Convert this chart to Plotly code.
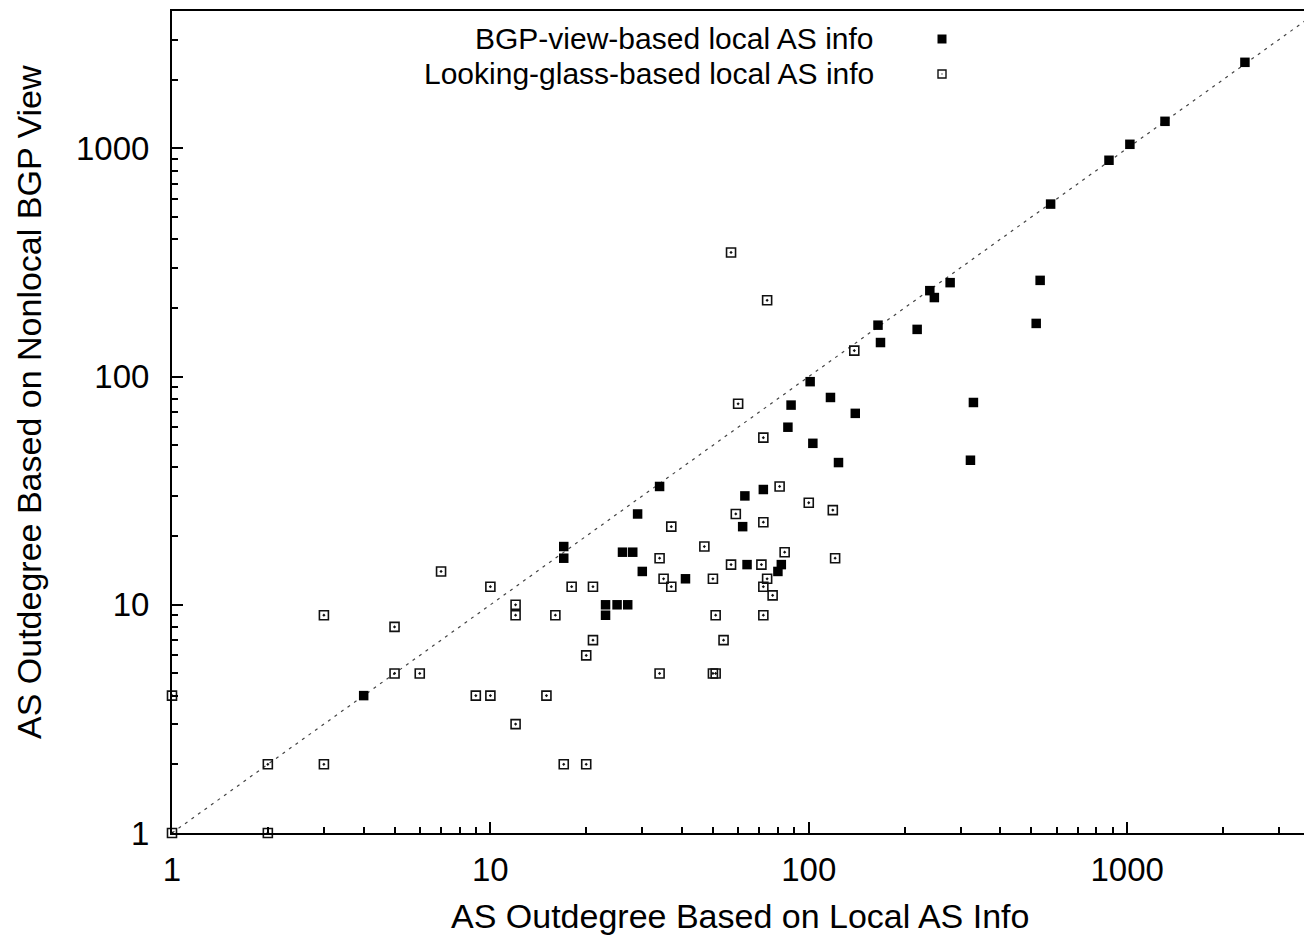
import plotly.graph_objects as go

# BGP-view-based local AS info (filled squares)
bgp_x = [4, 17, 17, 23, 23, 25, 27, 26, 28, 29, 30, 34, 41, 62, 63, 64, 72, 80, 82,
         86, 88, 101, 103, 117, 124, 140, 165, 168, 219, 240, 248, 278, 322, 329,
         518, 533, 575, 877, 1020, 1315, 2344]
bgp_y = [4, 18, 16, 10, 9, 10, 10, 17, 17, 25, 14, 33, 13, 22, 30, 15, 32, 14, 15,
         60, 75, 95, 51, 81, 42, 69, 168, 141, 161, 238, 222, 258, 43, 77,
         171, 264, 570, 887, 1042, 1314, 2383]

# Looking-glass-based local AS info (open squares with dot)
lg_x = [1, 1, 2, 2, 3, 3, 5, 5, 6, 7, 9, 10, 10, 12, 12, 12, 15, 16, 17, 18, 20, 20,
        21, 21, 34, 34, 35, 37, 37, 47, 50, 51, 50, 51, 54, 57, 57, 59, 60, 71, 72,
        72, 72, 72, 74, 74, 77, 81, 84, 100, 119, 121, 139]
lg_y = [1, 4, 1, 2, 2, 9, 5, 8, 5, 14, 4, 4, 12, 3, 9, 10, 4, 9, 2, 12, 2, 6,
        7, 12, 5, 16, 13, 12, 22, 18, 5, 5, 13, 9, 7, 15, 350, 25, 76, 15, 9,
        12, 23, 54, 13, 216, 11, 33, 17, 28, 26, 16, 130]

diag = [1, 4000]

major_ticks = [1, 10, 100, 1000]
major_text = ["1", "10", "100", "1000"]
minor_ticks = [2, 3, 4, 5, 6, 7, 8, 9, 20, 30, 40, 50, 60, 70, 80, 90,
               200, 300, 400, 500, 600, 700, 800, 900, 2000, 3000]

legend_labels = ["BGP-view-based local AS info", "Looking-glass-based local AS info"]
x_title = "AS Outdegree Based on Local AS Info"
y_title = "AS Outdegree Based on Nonlocal BGP View"

FONT = "Liberation Sans, Arial, sans-serif"

fig = go.Figure()
fig.add_trace(go.Scatter(x=diag, y=diag, mode="lines",
                         line=dict(color="#444444", width=1.2, dash="3px,5px"),
                         showlegend=False, hoverinfo="skip"))
fig.add_trace(go.Scatter(x=lg_x, y=lg_y, mode="markers", name=legend_labels[1],
                         marker=dict(symbol="square-open-dot", size=9,
                                     color="#111111", line=dict(width=1.6, color="#111111")),
                         cliponaxis=False, showlegend=False))
fig.add_trace(go.Scatter(x=bgp_x, y=bgp_y, mode="markers", name=legend_labels[0],
                         marker=dict(symbol="square", size=9.5, color="black",
                                     line=dict(width=0)),
                         cliponaxis=False, showlegend=False))

axis_common = dict(
    type="log", showgrid=False, zeroline=False,
    showline=True, linecolor="black", linewidth=2,
    ticks="inside", ticklen=11, tickwidth=2, tickcolor="black",
    tickvals=major_ticks, ticktext=major_text,
    tickfont=dict(family=FONT, size=33, color="black"),
    minor=dict(ticks="inside", ticklen=6, tickwidth=2, tickcolor="black",
               tickvals=minor_ticks, showgrid=False),
)

fig.update_xaxes(**axis_common, range=[0, 3.5555], mirror=True, ticklabelstandoff=6)
fig.update_yaxes(**axis_common, range=[0, 3.602], mirror=False, ticklabelstandoff=14)

W, H = 1304, 940
L, R, T, B = 172, 0, 11, 107
pw, ph = W - L - R, H - T - B

def px_to_paper_x(px):
    return (px - L) / pw

def px_to_paper_y(py):
    return (H - B - py) / ph

annotations = [
    dict(text=x_title, x=px_to_paper_x(740), y=px_to_paper_y(916), xref="paper", yref="paper",
         showarrow=False, xanchor="center", yanchor="middle",
         font=dict(family=FONT, size=34, color="black")),
    dict(text=y_title, x=px_to_paper_x(29), y=px_to_paper_y(402), xref="paper", yref="paper",
         showarrow=False, xanchor="center", yanchor="middle", textangle=-90,
         font=dict(family=FONT, size=34, color="black")),
]
legend_y_px = [39, 74]
for lbl, ypx in zip(legend_labels, legend_y_px):
    annotations.append(dict(text=lbl, x=px_to_paper_x(876), y=px_to_paper_y(ypx),
                            xref="paper", yref="paper", showarrow=False,
                            xanchor="right", yanchor="middle",
                            font=dict(family=FONT, size=30, color="black")))

lx = px_to_paper_x(942)
shapes = [
    dict(type="rect", xref="paper", yref="paper", xsizemode="pixel", ysizemode="pixel",
         xanchor=lx, yanchor=px_to_paper_y(legend_y_px[0]), x0=-4.5, x1=4.5, y0=-4.5, y1=4.5,
         fillcolor="black", line=dict(width=0)),
    dict(type="rect", xref="paper", yref="paper", xsizemode="pixel", ysizemode="pixel",
         xanchor=lx, yanchor=px_to_paper_y(legend_y_px[1]), x0=-4, x1=4, y0=-4, y1=4,
         fillcolor="rgba(0,0,0,0)", line=dict(width=1.4, color="#111111")),
    dict(type="rect", xref="paper", yref="paper", xsizemode="pixel", ysizemode="pixel",
         xanchor=lx, yanchor=px_to_paper_y(legend_y_px[1]), x0=-0.6, x1=0.6, y0=-0.6, y1=0.6,
         fillcolor="#111111", line=dict(width=0)),
]

fig.update_layout(
    width=W, height=H,
    margin=dict(l=L, r=R, t=T, b=B, pad=0),
    paper_bgcolor="white", plot_bgcolor="white",
    showlegend=False,
    annotations=annotations, shapes=shapes,
    font=dict(family=FONT, color="black"),
)

fig.write_html("out.html", config={"displayModeBar": False},
               post_script="document.body.style.margin='0';document.body.style.overflow='hidden';")
